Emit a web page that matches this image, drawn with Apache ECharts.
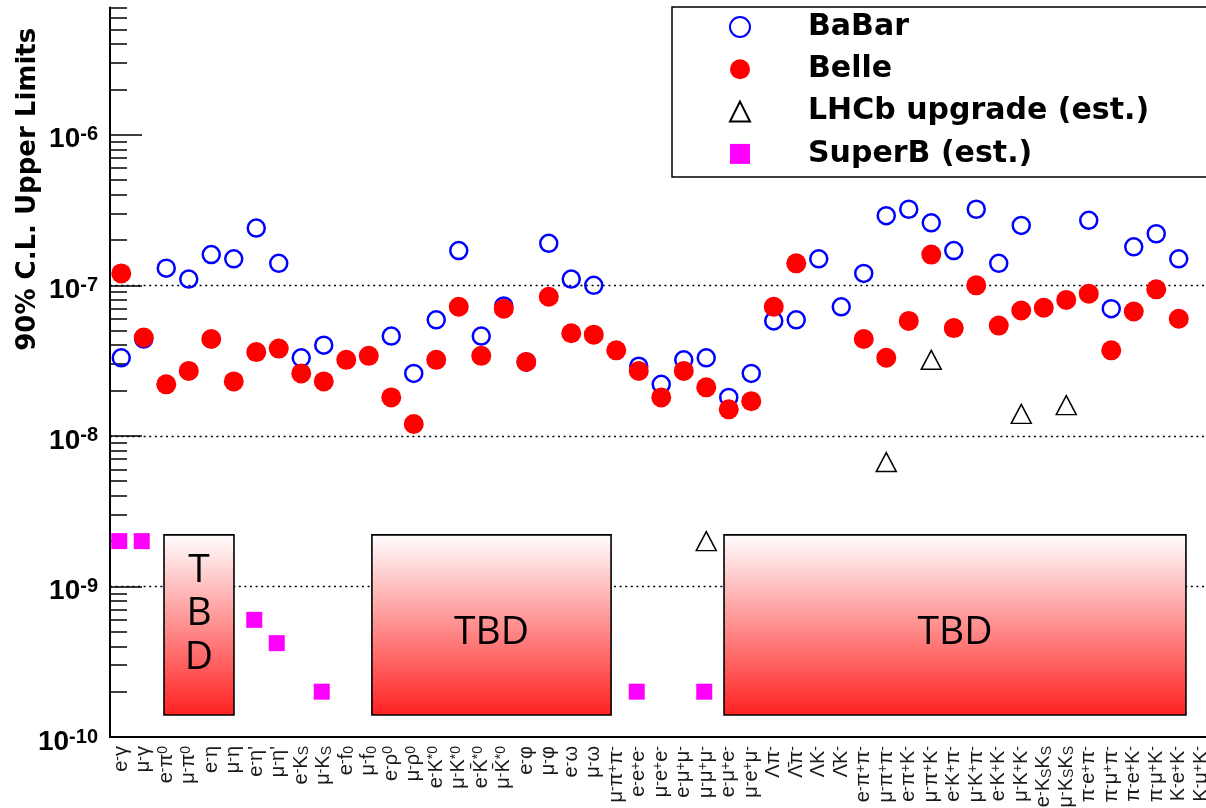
<!DOCTYPE html>
<html>
<head>
<meta charset="utf-8">
<script src="https://cdn.jsdelivr.net/npm/echarts@6/dist/echarts.min.js"></script>
<style>
  html, body { margin: 0; padding: 0; background: #ffffff; }
  #chart { width: 1206px; height: 808px; }
</style>
</head>
<body>
<div id="chart"></div>
<script>
// Decay modes, written with ^ for superscripts and _ for subscripts
const modes = [
  'e^-γ', 'μ^-γ', 'e^-π^0', 'μ^-π^0', 'e^-η', 'μ^-η', "e^-η'", "μ^-η'",
  'e^-K_S', 'μ^-K_S', 'e^-f_0', 'μ^-f_0', 'e^-ρ^0', 'μ^-ρ^0',
  'e^-K^{*0}', 'μ^-K^{*0}', 'e^-K\u0304^{*0}', 'μ^-K\u0304^{*0}',
  'e^-φ', 'μ^-φ', 'e^-ω', 'μ^-ω', 'μ^-π^+π^-',
  'e^-e^+e^-', 'μ^-e^+e^-', 'e^-μ^+μ^-', 'μ^-μ^+μ^-', 'e^-μ^+e^-', 'μ^-e^+μ^-',
  'Λπ^-', 'Λ\u0304π^-', 'ΛK^-', 'Λ\u0304K^-',
  'e^-π^+π^-', 'μ^-π^+π^-', 'e^-π^+K^-', 'μ^-π^+K^-', 'e^-K^+π^-', 'μ^-K^+π^-',
  'e^-K^+K^-', 'μ^-K^+K^-', 'e^-K_SK_S', 'μ^-K_SK_S',
  'π^-e^+π^-', 'π^-μ^+π^-', 'π^-e^+K^-', 'π^-μ^+K^-', 'K^-e^+K^-', 'K^-μ^+K^-'
];

// 90% C.L. upper limits, one entry per mode (null = no measurement)
const babar = [
  3.3e-8, 4.4e-8, 1.3e-7, 1.1e-7, 1.6e-7, 1.5e-7, 2.4e-7, 1.4e-7,
  3.3e-8, 4.0e-8, null, null, 4.6e-8, 2.6e-8,
  5.9e-8, 1.7e-7, 4.6e-8, 7.3e-8,
  3.1e-8, 1.9e-7, 1.1e-7, 1.0e-7, null,
  2.9e-8, 2.2e-8, 3.2e-8, 3.3e-8, 1.8e-8, 2.6e-8,
  5.8e-8, 5.9e-8, 1.5e-7, 7.2e-8,
  1.2e-7, 2.9e-7, 3.2e-7, 2.6e-7, 1.7e-7, 3.2e-7,
  1.4e-7, 2.5e-7, null, null,
  2.7e-7, 7.0e-8, 1.8e-7, 2.2e-7, 1.5e-7, null
];
const belle = [
  1.2e-7, 4.5e-8, 2.2e-8, 2.7e-8, 4.4e-8, 2.3e-8, 3.6e-8, 3.8e-8,
  2.6e-8, 2.3e-8, 3.2e-8, 3.4e-8, 1.8e-8, 1.2e-8,
  3.2e-8, 7.2e-8, 3.4e-8, 7.0e-8,
  3.1e-8, 8.4e-8, 4.8e-8, 4.7e-8, 3.7e-8,
  2.7e-8, 1.8e-8, 2.7e-8, 2.1e-8, 1.5e-8, 1.7e-8,
  7.2e-8, 1.4e-7, null, null,
  4.4e-8, 3.3e-8, 5.8e-8, 1.6e-7, 5.2e-8, 1.0e-7,
  5.4e-8, 6.8e-8, 7.1e-8, 8.0e-8,
  8.8e-8, 3.7e-8, 6.7e-8, 9.4e-8, 6.0e-8, null
];
// Projected sensitivities: [mode index, limit]
const lhcbUpgrade = [[26, 2.0e-9], [34, 6.7e-9], [36, 3.2e-8], [40, 1.4e-8], [42, 1.6e-8]];
const superB = [[0, 2.0e-9], [1, 2.0e-9], [6, 6.0e-10], [7, 4.2e-10], [9, 2.0e-10], [23, 2.0e-10], [26, 2.0e-10]];

// Regions still to be determined: mode-bin edges (bin i spans i..i+1) and limit range
const tbdBoxes = [
  { x0: 2.4,   x1: 5.51,  top: 2.2e-9, bottom: 1.4e-10, label: 'T\nB\nD' },
  { x0: 11.64, x1: 22.27, top: 2.2e-9, bottom: 1.4e-10, label: 'TBD' },
  { x0: 27.29, x1: 47.82, top: 2.2e-9, bottom: 1.4e-10, label: 'TBD' }
];

// Axis decoration values
const majorTicks = [1e-10, 1e-9, 1e-8, 1e-7, 1e-6];
const minorTicks = [];
for (let e = -10; e <= -6; e++) {
  for (let m = 2; m <= 9; m++) {
    const v = m * Math.pow(10, e);
    if (v <= 7e-6) minorTicks.push(v);
  }
}

function toRich(s) {
  let out = '';
  let plain = '';
  const flush = () => { if (plain) { out += '{n|' + plain + '}'; plain = ''; } };
  for (let i = 0; i < s.length; i++) {
    const c = s[i];
    if (c === '^' || c === '_') {
      flush();
      let tok;
      if (s[i + 1] === '{') {
        const j = s.indexOf('}', i);
        tok = s.slice(i + 2, j);
        i = j;
      } else {
        tok = s[i + 1];
        i++;
      }
      out += '{' + (c === '^' ? 'sup' : 'sub') + '|' + tok + '}';
    } else {
      plain += c;
    }
  }
  flush();
  return out;
}

const pairs = arr => arr.map((v, i) => [i, v]).filter(d => d[1] != null);

const chart = echarts.init(document.getElementById('chart'), null, { renderer: 'canvas' });

const labelFont = 'Liberation Sans';

const option = {
  backgroundColor: '#ffffff',
  animation: false,
  grid: { left: 110, top: 7.5, bottom: 71, right: -6.5, containLabel: false, outerBoundsMode: 'none' },
  legend: {
    orient: 'vertical',
    left: 672,
    top: 7,
    padding: [5, 260, 8, 57],
    itemWidth: 20,
    itemHeight: 20,
    itemGap: 12.3,
    backgroundColor: '#ffffff',
    borderColor: '#000000',
    borderWidth: 1.5,
    selectedMode: false,
    textStyle: {
      fontFamily: 'DejaVu Sans',
      fontWeight: 'bold',
      fontSize: 30,
      lineHeight: 30,
      color: '#000000',
      padding: [0, 0, 0, 53]
    },
    data: ['BaBar', 'Belle', 'LHCb upgrade (est.)', 'SuperB (est.)']
  },
  xAxis: [
    {
      type: 'category',
      data: modes,
      boundaryGap: true,
      axisLine: { lineStyle: { color: '#000000', width: 2 } },
      axisTick: { inside: true, length: 20, interval: 0, lineStyle: { color: '#000000', width: 1.5 } },
      splitLine: { show: false },
      axisLabel: {
        interval: 0,
        rotate: 90,
        margin: 9,
        hideOverlap: false,
        formatter: v => toRich(v),
        rich: {
          n: { fontFamily: labelFont, fontSize: 20, color: '#1a1a1a', lineHeight: 20 },
          sup: { fontFamily: labelFont, fontSize: 14, color: '#1a1a1a', lineHeight: 11, verticalAlign: 'top' },
          sub: { fontFamily: labelFont, fontSize: 14, color: '#1a1a1a', lineHeight: 11, verticalAlign: 'bottom' }
        }
      }
    },
    { type: 'value', min: 0, max: modes.length, show: false }
  ],
  yAxis: [
    {
      type: 'log',
      logBase: 10,
      min: 1e-10,
      max: 7e-6,
      name: '90% C.L. Upper Limits',
      nameLocation: 'middle',
      nameRotate: 90,
      nameGap: 82,
      nameMoveOverlap: false,
      nameTextStyle: {
        fontFamily: 'DejaVu Sans',
        fontWeight: 'bold',
        fontSize: 26,
        color: '#000000',
        align: 'center',
        verticalAlign: 'middle',
        padding: [0, 0, 0, 366]
      },
      axisLine: { show: true, lineStyle: { color: '#000000', width: 2 } },
      axisTick: { show: true, inside: true, length: 32, customValues: majorTicks, lineStyle: { color: '#000000', width: 1.5 } },
      axisLabel: {
        customValues: majorTicks,
        margin: 12,
        padding: [10, 0, 0, 0],
        formatter: v => '{b|10}{s|' + Math.round(Math.log10(v)) + '}',
        rich: {
          b: { fontFamily: labelFont, fontWeight: 'bold', fontSize: 28, color: '#000000', lineHeight: 30 },
          s: { fontFamily: labelFont, fontWeight: 'bold', fontSize: 20, color: '#000000', lineHeight: 16, verticalAlign: 'top' }
        }
      },
      splitLine: {
        show: true,
        showMinLine: false,
        showMaxLine: false,
        lineStyle: { color: '#000000', width: 1.4, type: [2, 3.6] }
      }
    },
    {
      type: 'log',
      logBase: 10,
      min: 1e-10,
      max: 7e-6,
      position: 'left',
      axisLine: { show: false },
      axisLabel: { show: false },
      splitLine: { show: false },
      axisTick: { show: true, inside: true, length: 17, customValues: minorTicks, lineStyle: { color: '#000000', width: 1.5 } }
    }
  ],
  series: [
    {
      name: 'TBD',
      type: 'custom',
      xAxisIndex: 1,
      yAxisIndex: 0,
      silent: true,
      z: 1,
      data: tbdBoxes.map(b => [b.x0, b.top]),
      renderItem: (params, api) => {
        const b = tbdBoxes[params.dataIndex];
        const p0 = api.coord([b.x0, b.top]);
        const p1 = api.coord([b.x1, b.bottom]);
        const stacked = b.label.indexOf('\n') >= 0;
        return {
          type: 'group',
          children: [
            {
              type: 'rect',
              shape: { x: p0[0], y: p0[1], width: p1[0] - p0[0], height: p1[1] - p0[1] },
              style: {
                fill: new echarts.graphic.LinearGradient(0, 0, 0, 1, [
                  { offset: 0, color: '#ffffff' },
                  { offset: 1, color: '#ff2020' }
                ]),
                stroke: '#000000',
                lineWidth: 1.6
              }
            },
            {
              type: 'text',
              x: (p0[0] + p1[0]) / 2,
              y: (p0[1] + p1[1]) / 2 + (stacked ? -11 : 8),
              style: {
                text: b.label,
                fontFamily: 'Open Sans',
                fontSize: 39,
                lineHeight: 43.5,
                fill: '#000000',
                align: 'center',
                verticalAlign: 'middle'
              }
            }
          ]
        };
      }
    },
    {
      name: 'BaBar',
      type: 'scatter',
      symbol: 'circle',
      symbolSize: 17,
      z: 3,
      itemStyle: { color: 'rgba(0,0,0,0)', borderColor: '#0000ff', borderWidth: 2.5, opacity: 1 },
      data: pairs(babar)
    },
    {
      name: 'Belle',
      type: 'scatter',
      symbol: 'circle',
      symbolSize: 20,
      z: 4,
      itemStyle: { color: '#ff0000', opacity: 1 },
      data: pairs(belle)
    },
    {
      name: 'LHCb upgrade (est.)',
      type: 'scatter',
      symbol: 'triangle',
      symbolSize: [20, 19],
      z: 5,
      itemStyle: { color: 'rgba(0,0,0,0)', borderColor: '#000000', borderWidth: 1.5, opacity: 1 },
      data: lhcbUpgrade
    },
    {
      name: 'SuperB (est.)',
      type: 'scatter',
      symbol: 'rect',
      symbolSize: 16,
      symbolOffset: [-2, 0],
      z: 5,
      itemStyle: { color: '#ff00ff', opacity: 1 },
      data: superB
    }
  ]
};

chart.setOption(option);
</script>
</body>
</html>
